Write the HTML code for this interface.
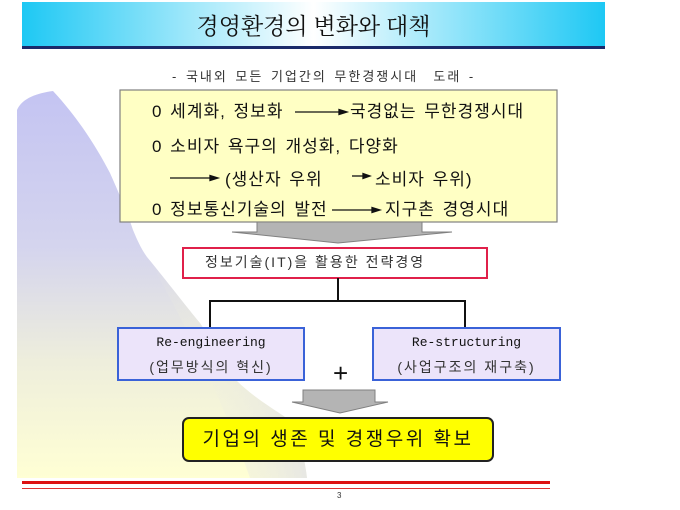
<!DOCTYPE html>
<html><head><meta charset="utf-8"><style>
body{margin:0;width:680px;height:510px;background:#fff;position:relative;overflow:hidden;font-family:"Liberation Sans","Noto Sans CJK KR",sans-serif;}
.t{position:absolute;white-space:nowrap;color:#111;line-height:1;}
.r{font-size:17px;letter-spacing:1px;word-spacing:2px}
</style></head><body>
<svg width="680" height="510" style="position:absolute;left:0;top:0">
<defs>
<linearGradient id="tb" x1="0" x2="1" y1="0" y2="0">
<stop offset="0" stop-color="#1ec8f4"/><stop offset="0.5" stop-color="#ffffff"/><stop offset="1" stop-color="#1ec8f4"/>
</linearGradient>
<linearGradient id="bg" x1="0" x2="0" y1="0" y2="1">
<stop offset="0" stop-color="#c4c4f2"/><stop offset="0.4" stop-color="#d4d4ee"/><stop offset="0.7" stop-color="#eeeedc"/><stop offset="1" stop-color="#ffffd4"/>
</linearGradient>
<linearGradient id="bg2" x1="0" x2="1" y1="0" y2="0">
<stop offset="0" stop-color="#ffffd4" stop-opacity="0"/><stop offset="1" stop-color="#d8d8ee"/>
</linearGradient>
</defs>
<rect x="22" y="2" width="583" height="45" fill="url(#tb)"/>
<rect x="22" y="46" width="583" height="3" fill="#1a2a6a"/>
<path d="M17,478 L17,110 C22,98 38,93 53,91 C80,120 98,150 110,173 C122,200 128,215 133,230 C138,242 142,250 147,257 C170,285 185,305 200,323 C215,345 225,362 233,377 C255,400 280,412 293,423 C300,440 305,460 307,478 Z" fill="url(#bg)"/>
<path d="M147,257 C170,285 185,305 200,323 C215,345 225,362 233,377 C255,400 280,412 293,423 C300,440 305,460 307,478 L250,478 C230,420 190,330 147,257 Z" fill="url(#bg2)" opacity="0.6"/>
<rect x="120" y="90" width="437" height="132" fill="#ffffc4" stroke="#808080" stroke-width="1.2"/>
<polygon points="257,222 422,222 422,232 452,232 338,243 232,232 257,232" fill="#b4b4b4" stroke="#808080" stroke-width="1"/>
<rect x="183" y="248" width="304" height="30" fill="#fff" stroke="#e0204a" stroke-width="2"/>
<path d="M338,278 V301 M210,328 V301 H465 V328" fill="none" stroke="#111" stroke-width="2"/>
<rect x="118" y="328" width="186" height="52" fill="#ece4fa" stroke="#3a62d8" stroke-width="2"/>
<rect x="373" y="328" width="187" height="52" fill="#ece4fa" stroke="#3a62d8" stroke-width="2"/>
<polygon points="303,390 375,390 375,402 388,402 340,413 292,402 303,402" fill="#b4b4b4" stroke="#808080" stroke-width="1"/>
<rect x="183" y="418" width="310" height="43" rx="6" fill="#ffff00" stroke="#222" stroke-width="2"/>
<rect x="22" y="481" width="528" height="3" fill="#dd1111"/>
<rect x="22" y="488" width="528" height="1" fill="#dd3333"/>
<g stroke="#111" stroke-width="1.3" fill="#111">
<line x1="295" y1="112" x2="342" y2="112"/><polygon points="347,112 339,109.5 339,114.5"/>
<line x1="170" y1="178" x2="213" y2="178"/><polygon points="218,178 210,175.5 210,180.5"/>
<line x1="352" y1="176" x2="365" y2="176"/><polygon points="370,176 363,173.5 363,178.5"/>
<line x1="332" y1="210" x2="375" y2="210"/><polygon points="380,210 372,207.5 372,212.5"/>
</g>
</svg>
<div class="t" style="left:0;width:627px;text-align:center;top:13px;font-size:23px;font-family:'Noto Serif CJK SC','Liberation Serif',serif;">경영환경의 변화와 대책</div>
<div class="t" style="left:172px;top:70px;font-size:13px;color:#333;letter-spacing:2px;word-spacing:2px">- 국내외 모든 기업간의 무한경쟁시대 &nbsp;도래 -</div>
<div class="t r" style="left:152px;top:103px">0 세계화, 정보화</div>
<div class="t r" style="left:350px;top:103px">국경없는 무한경쟁시대</div>
<div class="t r" style="left:152px;top:138px">0 소비자 욕구의 개성화, 다양화</div>
<div class="t r" style="left:225px;top:171px">(생산자 우위</div>
<div class="t r" style="left:375px;top:171px">소비자 우위)</div>
<div class="t r" style="left:152px;top:201px">0 정보통신기술의 발전</div>
<div class="t r" style="left:385px;top:201px">지구촌 경영시대</div>
<div class="t" style="left:205px;top:255px;font-size:14px;color:#333;letter-spacing:2px">정보기술(IT)을 활용한 전략경영</div>
<div class="t" style="left:118px;width:186px;text-align:center;top:336px;font-size:13px;font-family:'Liberation Mono',monospace">Re-engineering</div>
<div class="t" style="left:118px;width:186px;text-align:center;top:360px;font-size:14px;color:#333;letter-spacing:2px">(업무방식의 혁신)</div>
<div class="t" style="left:373px;width:187px;text-align:center;top:336px;font-size:13px;font-family:'Liberation Mono',monospace">Re-structuring</div>
<div class="t" style="left:373px;width:187px;text-align:center;top:360px;font-size:14px;color:#333;letter-spacing:2px">(사업구조의 재구축)</div>
<div class="t" style="left:333px;top:360px;font-size:26px">+</div>
<div class="t" style="left:183px;width:310px;text-align:center;top:430px;font-size:19px;letter-spacing:2.5px">기업의 생존 및 경쟁우위 확보</div>
<div class="t" style="left:337px;top:492px;font-size:8px;color:#333">3</div>
</body></html>
